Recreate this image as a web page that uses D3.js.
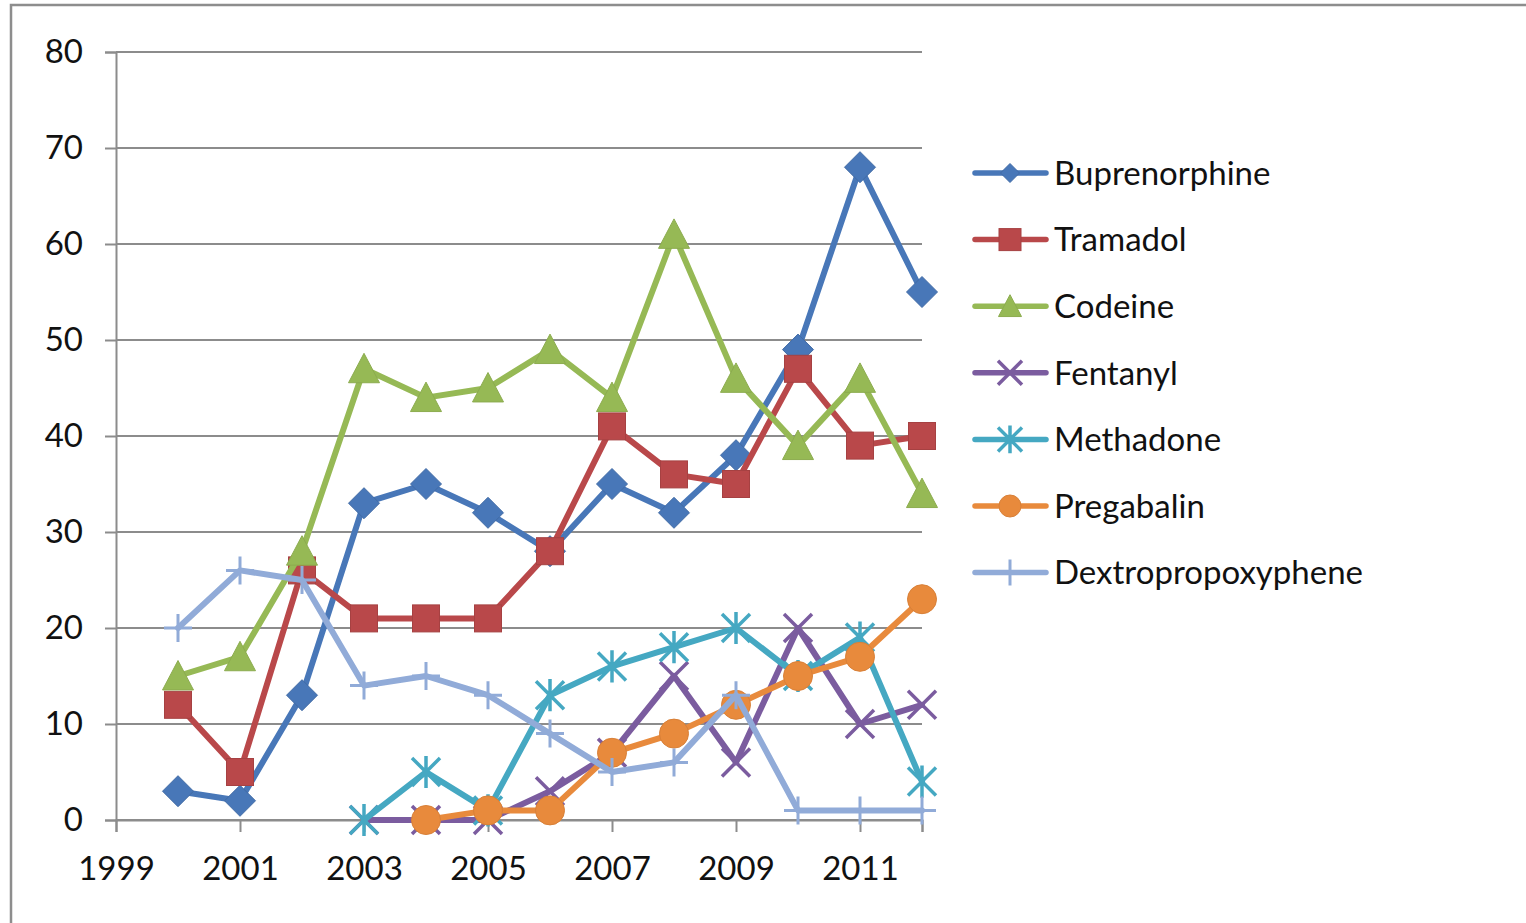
<!DOCTYPE html>
<html>
<head>
<meta charset="utf-8">
<script src="https://cdn.jsdelivr.net/npm/d3@7"></script>
<style>
  html, body { margin: 0; padding: 0; background: #fff; }
  svg { display: block; font-family: Lato, "Open Sans", sans-serif; }
</style>
</head>
<body>
<svg id="chart" width="1526" height="923"></svg>
<script>
// Yearly counts per substance, 2000–2012 (null = not recorded)
const years = [2000, 2001, 2002, 2003, 2004, 2005, 2006, 2007, 2008, 2009, 2010, 2011, 2012];
const buprenorphine = [3, 2, 13, 33, 35, 32, 28, 35, 32, 38, 49, 68, 55];
const tramadol = [12, 5, 26, 21, 21, 21, 28, 41, 36, 35, 47, 39, 40];
const codeine = [15, 17, 28, 47, 44, 45, 49, 44, 61, 46, 39, 46, 34];
const fentanyl = [null, null, null, 0, 0, 0, 3, 7, 15, 6, 20, 10, 12];
const methadone = [null, null, null, 0, 5, 1, 13, 16, 18, 20, 15, 19, 4];
const pregabalin = [null, null, null, null, 0, 1, 1, 7, 9, 12, 15, 17, 23];
const dextropropoxyphene = [20, 26, 25, 14, 15, 13, 9, 5, 6, 13, 1, 1, 1];

const seriesNames = ["Buprenorphine", "Tramadol", "Codeine", "Fentanyl", "Methadone", "Pregabalin", "Dextropropoxyphene"];
const seriesValues = [buprenorphine, tramadol, codeine, fentanyl, methadone, pregabalin, dextropropoxyphene];
const seriesColors = ["#4877b8", "#b9484a", "#96b955", "#7b5c9f", "#45a8c2", "#e88a3c", "#91abd8"];
const seriesMarkers = ["diamond", "square", "triangle", "x", "star", "circle", "plus"];

const yTicks = [0, 10, 20, 30, 40, 50, 60, 70, 80];
const xTickLabels = [1999, 2001, 2003, 2005, 2007, 2009, 2011];

const svg = d3.select("#chart");

// Outer chart-area frame (top and left edges visible)
svg.append("path")
  .attr("d", "M11,923 L11,5 L1526,5")
  .attr("fill", "none")
  .attr("stroke", "#8d8d8d")
  .attr("stroke-width", 2.5);

const x = d3.scaleLinear().domain([1999, 2012]).range([116, 922]);
const y = d3.scaleLinear().domain([0, 80]).range([820, 52]);

const gridColor = "#8c8c8c";
const labelFont = "33px";

// Horizontal gridlines
svg.append("g")
  .selectAll("line")
  .data(yTicks)
  .join("line")
  .attr("x1", x(1999))
  .attr("x2", x(2012))
  .attr("y1", d => y(d))
  .attr("y2", d => y(d))
  .attr("stroke", gridColor)
  .attr("stroke-width", 2);

// Y axis
const yAxis = svg.append("g")
  .attr("transform", `translate(${x(1999)},0)`)
  .call(d3.axisLeft(y).tickValues(yTicks).tickSize(11).tickPadding(22));
yAxis.select(".domain").attr("stroke", gridColor).attr("stroke-width", 2);
yAxis.selectAll(".tick line").attr("stroke", gridColor).attr("stroke-width", 2);
yAxis.selectAll(".tick text")
  .attr("fill", "#111")
  .style("font-size", labelFont)
  .style("font-family", "Lato, sans-serif");

// X axis
const xAxis = svg.append("g")
  .attr("transform", `translate(0,${y(0)})`)
  .call(d3.axisBottom(x).tickValues([...xTickLabels, 2012]).tickFormat(d => d === 2012 ? "" : d3.format("d")(d)).tickSize(12).tickPadding(25));
xAxis.select(".domain").attr("stroke", gridColor).attr("stroke-width", 2);
xAxis.selectAll(".tick line").attr("stroke", gridColor).attr("stroke-width", 2);
xAxis.selectAll(".tick text")
  .attr("fill", "#111")
  .style("font-size", labelFont)
  .style("font-family", "Lato, sans-serif");

// Marker drawing
function drawMarker(g, type, color, s) {
  const h = s / 2;
  switch (type) {
    case "diamond":
      g.append("path").attr("d", `M0,${-h} L${h},0 L0,${h} L${-h},0 Z`)
        .attr("fill", color).attr("stroke", d3.color(color).darker(0.3)).attr("stroke-width", 1);
      break;
    case "square":
      g.append("rect").attr("x", -h).attr("y", -h).attr("width", s).attr("height", s)
        .attr("fill", color).attr("stroke", d3.color(color).darker(0.3)).attr("stroke-width", 1);
      break;
    case "triangle":
      g.append("path").attr("d", `M0,${-h} L${h},${h * 0.9} L${-h},${h * 0.9} Z`)
        .attr("fill", color).attr("stroke", d3.color(color).darker(0.2)).attr("stroke-width", 1);
      break;
    case "circle":
      g.append("circle").attr("r", h)
        .attr("fill", color).attr("stroke", d3.color(color).darker(0.2)).attr("stroke-width", 1);
      break;
    case "x":
      g.append("path").attr("d", `M${-h},${-h} L${h},${h} M${-h},${h} L${h},${-h}`)
        .attr("stroke", color).attr("stroke-width", 3.5).attr("fill", "none");
      break;
    case "star":
      g.append("path").attr("d", `M${-h},${-h} L${h},${h} M${-h},${h} L${h},${-h} M0,${-h * 1.15} L0,${h * 1.15}`)
        .attr("stroke", color).attr("stroke-width", 3.5).attr("fill", "none");
      break;
    case "plus":
      g.append("path").attr("d", `M${-h},0 L${h},0 M0,${-h} L0,${h}`)
        .attr("stroke", color).attr("stroke-width", 3).attr("fill", "none");
      break;
  }
}

const chartSizes = { diamond: 31, square: 27, triangle: 31, circle: 29, x: 28, star: 28, plus: 28 };
const legendSizes = { diamond: 19, square: 22, triangle: 23, circle: 22, x: 24, star: 24, plus: 26 };

const line = d3.line()
  .defined(d => d.v !== null)
  .x(d => x(d.year))
  .y(d => y(d.v));

// Series: line then markers, each series above the previous one
seriesNames.forEach((name, i) => {
  const pts = years.map((yr, j) => ({ year: yr, v: seriesValues[i][j] }));
  const g = svg.append("g").attr("class", "series");
  g.append("path")
    .datum(pts)
    .attr("d", line)
    .attr("fill", "none")
    .attr("stroke", seriesColors[i])
    .attr("stroke-width", 6)
    .attr("stroke-linejoin", "round")
    .attr("stroke-linecap", "round");
  pts.filter(d => d.v !== null).forEach(d => {
    const m = g.append("g").attr("transform", `translate(${x(d.year)},${y(d.v)})`);
    drawMarker(m, seriesMarkers[i], seriesColors[i], chartSizes[seriesMarkers[i]]);
  });
});

// Legend
const legend = svg.append("g").attr("transform", "translate(973,173)");
seriesNames.forEach((name, i) => {
  const row = legend.append("g").attr("transform", `translate(0,${i * 66.6})`);
  row.append("line")
    .attr("x1", 2).attr("x2", 73).attr("y1", 0).attr("y2", 0)
    .attr("stroke", seriesColors[i]).attr("stroke-width", 5.5).attr("stroke-linecap", "round");
  const m = row.append("g").attr("transform", "translate(37,0)");
  drawMarker(m, seriesMarkers[i], seriesColors[i], legendSizes[seriesMarkers[i]]);
  row.append("text")
    .attr("x", 81)
    .attr("y", 0)
    .attr("dy", "0.36em")
    .attr("fill", "#111")
    .style("font-size", labelFont)
    .text(name);
});
</script>
</body>
</html>
